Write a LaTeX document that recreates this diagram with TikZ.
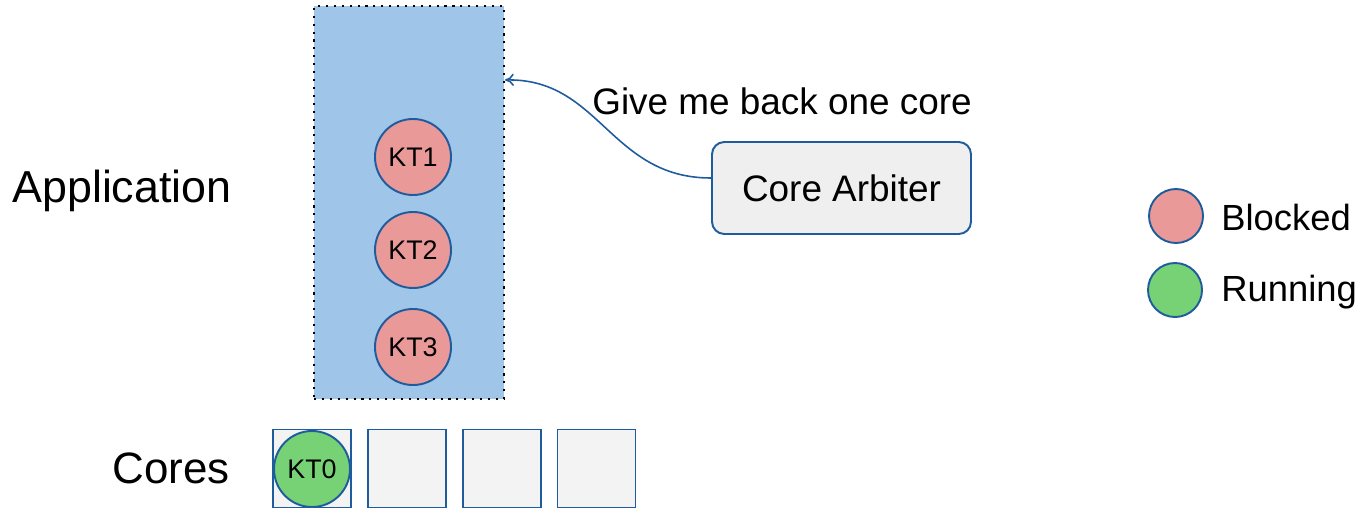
\documentclass[tikz,border=0pt]{standalone}
\usepackage{fontspec}
\setmainfont{Liberation Sans}
\usetikzlibrary{arrows.meta}
\definecolor{edgeblue}{HTML}{1F5C9E}
\definecolor{appblue}{HTML}{9FC5E8}
\definecolor{blockred}{HTML}{EA9999}
\definecolor{rungreen}{HTML}{76D275}
\definecolor{coregray}{HTML}{F3F3F3}
\definecolor{arbgray}{HTML}{EFEFEF}
\newcommand{\fsz}[1]{\fontsize{#1}{#1}\selectfont}
\begin{document}
\begin{tikzpicture}[x=0.02cm,y=-0.02cm,
  thread/.style={circle,draw=edgeblue,line width=1.1pt,minimum size=76*0.02cm,inner sep=0pt,font=\fsz{15.3pt}},
  blocked/.style={thread,fill=blockred},
  running/.style={thread,fill=rungreen},
  legenddot/.style={circle,draw=edgeblue,line width=1.1pt,minimum size=54*0.02cm,inner sep=0pt},
  corebox/.style={draw=edgeblue,fill=coregray,line width=1.1pt,minimum size=78*0.02cm,inner sep=0pt},
  label/.style={inner sep=0pt,anchor=west},
]
\useasboundingbox (0,0) rectangle (1371,510);

% application address space
\node[draw=black,fill=appblue,line width=1.2pt,dash pattern=on 1.2pt off 3.3pt,
      minimum width=190*0.02cm,minimum height=393*0.02cm,inner sep=0pt] (app) at (409,202.5) {};
\node[blocked] (kt1) at (413,157) {KT1};
\node[blocked] (kt2) at (413,250) {KT2};
\node[blocked] (kt3) at (413,347) {KT3};

% physical cores
\node[corebox] (c0) at (312,468.5) {};
\node[corebox] (c1) at (407,468.5) {};
\node[corebox] (c2) at (502,468.5) {};
\node[corebox] (c3) at (596.5,468.5) {};
\node[running] (kt0) at (312,469) {KT0};

% row labels
\node[label,font=\fsz{25.5pt}] (lapp) at (12,191) {Application};
\node[label,font=\fsz{25pt}] (lcores) at (112,468) {Cores};

% arbiter and its request
\node[draw=edgeblue,fill=arbgray,line width=1.1pt,rounded corners=7pt,
      minimum width=259*0.02cm,minimum height=92*0.02cm,inner sep=0pt,font=\fsz{21pt}] (arb) at (841.5,188) {Core Arbiter};
\coordinate (req) at (app.east |- 0,80);
\draw[edgeblue,line width=0.9pt,-{To[length=5pt,width=7pt]}] (arb.west |- 0,178) .. controls (610,178) and (600,78) .. (req);
\node[inner sep=0pt,font=\fsz{21pt}] (msg) at (782,101) {Give me back one core};

% legend
\node[legenddot,fill=blockred] (lb) at (1176,216) {};
\node[legenddot,fill=rungreen] (lr) at (1175,290) {};
\node[label,font=\fsz{20.7pt}] (tb) at (1221,217) {Blocked};
\node[label,font=\fsz{20.7pt}] (tr) at (1221,292) {Running};
\end{tikzpicture}
\end{document}
